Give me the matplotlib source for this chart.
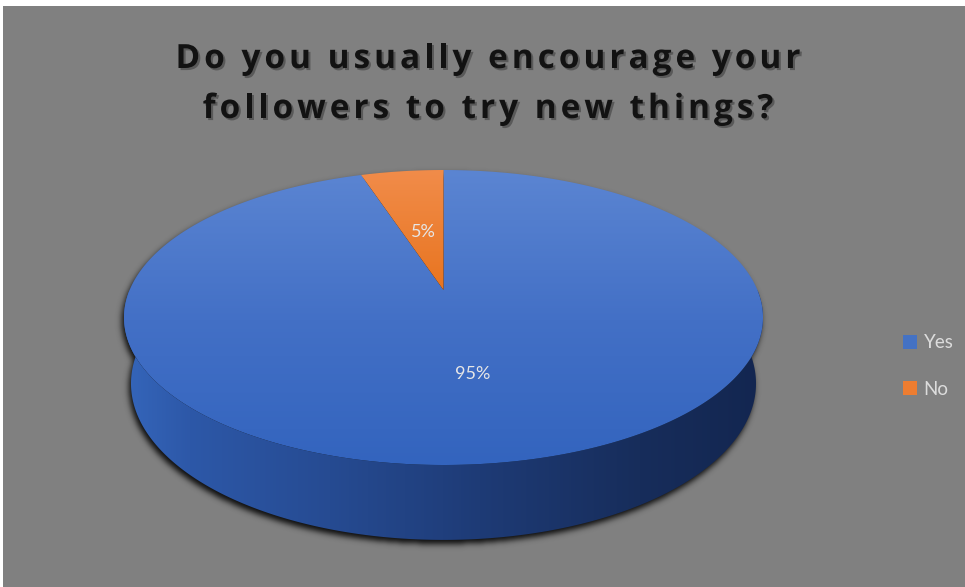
import numpy as np
import matplotlib
matplotlib.use("Agg")
import matplotlib.pyplot as plt
import matplotlib.patheffects as pe
from matplotlib.path import Path
from matplotlib.patches import PathPatch, Rectangle, Patch
from matplotlib.colors import to_rgb
from matplotlib.font_manager import FontProperties, findfont
from matplotlib.ft2font import FT2Font

title_lines = ["Do you usually encourage your", "followers to try new things?"]
labels = ["Yes", "No"]
values = [95, 5]
colors = ["#4472c4", "#ed7d31"]

W, H = 965, 587
fig = plt.figure(figsize=(W / 100, H / 100), dpi=100, facecolor="white")
ax = fig.add_axes([0, 0, 1, 1])
ax.set_xlim(0, W)
ax.set_ylim(H, 0)
ax.axis("off")
ax.add_patch(Rectangle((3, 6), W - 3, H - 6, facecolor="#808080",
                       edgecolor="none", zorder=0))

# --- 3D pie geometry (perspective view of a flat cylinder) ---
elev = np.radians(26.5)
dist = 4.8
box_x = (124, 763)
box_y = (170, 465)
side_px = 75


def raw(theta, h=0.0, r=1.0):
    x = r * np.cos(theta)
    z = r * np.sin(theta)
    s, c = np.sin(elev), np.cos(elev)
    depth = dist + z * c - h * s
    return x / depth, -(h * c + z * s) / depth


t_all = np.linspace(0, 2 * np.pi, 1441)
u0, v0 = raw(t_all)
kx = (box_x[1] - box_x[0]) / (u0.max() - u0.min())
ky = (box_y[1] - box_y[0]) / (v0.max() - v0.min())


def proj(theta, h=0.0, r=1.0):
    u, v = raw(theta, h, r)
    return box_x[0] + (u - u0.min()) * kx, box_y[0] + (v - v0.min()) * ky


# cylinder thickness giving the wanted side height at the front
hs = np.linspace(0.01, 1.0, 2000)
y_top_front = proj(-np.pi / 2)[1]
y_bot_front = proj(-np.pi / 2, -hs)[1]
thick = hs[np.argmin(np.abs(y_bot_front - y_top_front - side_px))]

# slice angles: start at 12 o'clock, run clockwise
frac = np.cumsum([0] + values) / np.sum(values)
bounds = np.pi / 2 - 2 * np.pi * frac

apex = proj(0.0, 0.0, 0.0)

# side wall (front half)
tf = np.linspace(np.pi, 2 * np.pi, 400)
xt, yt = proj(tf)
xb, yb = proj(tf[::-1], -thick)
side_verts = np.column_stack([np.r_[xt, xb], np.r_[yt, yb]])
side_path = Path(np.vstack([side_verts, side_verts[:1]]), closed=True)

xr, yr = proj(t_all)
top_path = Path(np.column_stack([xr, yr]), closed=True)

# soft drop shadow under the whole disc
gx, gy = np.meshgrid(np.arange(W) + 0.5, np.arange(H) + 0.5)
pts = np.column_stack([gx.ravel() + 2, gy.ravel() - 4])
mask = (side_path.contains_points(pts) | top_path.contains_points(pts))
mask = mask.reshape(H, W).astype(float)
sig = 3.0
k = np.exp(-0.5 * (np.arange(-10, 11) / sig) ** 2)
k /= k.sum()
mask = np.apply_along_axis(lambda r: np.convolve(r, k, mode="same"), 1, mask)
mask = np.apply_along_axis(lambda c: np.convolve(c, k, mode="same"), 0, mask)
shadow = np.zeros((H, W, 4))
shadow[..., 3] = 0.9 * mask
ax.imshow(shadow, extent=(0, W, H, 0), aspect="auto", zorder=1,
          interpolation="bilinear")


def gradient(stops, n, axis):
    pos = np.array([p for p, _ in stops])
    cols = np.array([to_rgb(c) for _, c in stops])
    coord = np.arange(n) + 0.5
    rgb = np.stack([np.interp(coord, pos, cols[:, i]) for i in range(3)], -1)
    return rgb[:, None, :] if axis == 0 else rgb[None, :, :]


# side wall shading, light on the left, dark navy on the right
side_img = gradient([(124, "#3566bb"), (190, "#2d58a8"), (330, "#264b92"),
                     (480, "#1e3b76"), (640, "#172d5b"), (763, "#132650")], W, 1)
side_patch = PathPatch(side_path, facecolor="none", edgecolor="none", zorder=2)
ax.add_patch(side_patch)
im = ax.imshow(side_img, extent=(0, W, H, 0), aspect="auto", zorder=2)
im.set_clip_path(side_patch)

# top face slices
face_grad = {
    "#4472c4": [(170, "#5b85d2"), (320, "#4370c6"), (465, "#3364be")],
    "#ed7d31": [(170, "#f18c4a"), (292, "#e8741f")],
}
for val, col, a0, a1 in zip(values, colors, bounds[:-1], bounds[1:]):
    tt = np.linspace(a0, a1, max(int(abs(a1 - a0) * 200), 8))
    xs, ys = proj(tt)
    verts = np.column_stack([np.r_[apex[0], xs], np.r_[apex[1], ys]])
    patch = PathPatch(Path(np.vstack([verts, verts[:1]]), closed=True),
                      facecolor="none", edgecolor="none", zorder=3)
    ax.add_patch(patch)
    img = ax.imshow(gradient(face_grad[col], H, 0), extent=(0, W, H, 0),
                    aspect="auto", zorder=3)
    img.set_clip_path(patch)

# data labels
label_r = [0.54, 0.45]
for val, a0, a1, r in zip(values, bounds[:-1], bounds[1:], label_r):
    lx, ly = proj((a0 + a1) / 2, 0.0, r)
    ax.text(lx, ly, f"{val}%", ha="center", va="center", fontsize=13,
            family="Lato", color="#e6e6e6", zorder=5)

# title with letter spacing
title_size = 24
title_font = FontProperties(family="Open Sans", weight="bold")
font = FT2Font(findfont(title_font))
font.set_size(title_size, 100)
line_width = 625
shadow_fx = [pe.SimplePatchShadow(offset=(1.5, -1.5), shadow_rgbFace="black",
                                  alpha=0.3), pe.Normal()]
adv0 = [font.load_char(ord(ch)).linearHoriAdvance / 65536 for ch in title_lines[0]]
spacing = (line_width - sum(adv0)) / (len(title_lines[0]) - 1)
for line, base in zip(title_lines, [68, 118]):
    adv = [font.load_char(ord(ch)).linearHoriAdvance / 65536 for ch in line]
    total = sum(adv) + spacing * (len(line) - 1)
    x = 488 - total / 2
    for ch, a in zip(line, adv):
        if ch != " ":
            ax.text(x, base, ch, ha="left", va="baseline", fontsize=title_size,
                    fontproperties=title_font, color="#121212",
                    path_effects=shadow_fx, zorder=6)
        x += a + spacing

# legend
handles = [Patch(facecolor=c, edgecolor="none") for c in colors]
leg = ax.legend(handles, labels, loc="center left", bbox_to_anchor=(886, 366),
                bbox_transform=ax.transData, frameon=False,
                handlelength=0.75, handleheight=0.75, handletextpad=0.35,
                labelspacing=1.55, prop={"family": "Lato", "size": 13.5})
for txt in leg.get_texts():
    txt.set_color("#dcdcdc")

fig.savefig("out.png", dpi=100, facecolor=fig.get_facecolor())
